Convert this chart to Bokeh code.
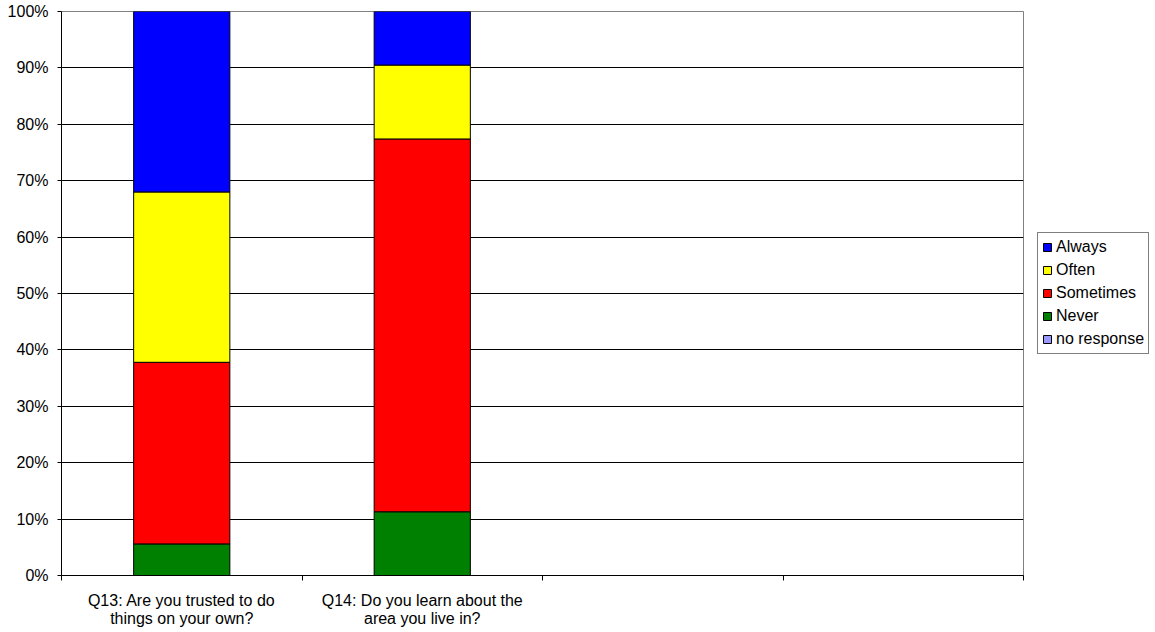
from bokeh.plotting import figure
from bokeh.models import (ColumnDataSource, FixedTicker, NumeralTickFormatter,
                          Legend, LegendItem, Range1d)
from bokeh.embed import file_html
from bokeh.resources import INLINE

categories = ["Q13: Are you trusted to do\nthings on your own?",
              "Q14: Do you learn about the\narea you live in?", "", ""]
series = ["no response", "Never", "Sometimes", "Often", "Always"]
colors = ["#9999FF", "#008000", "#FF0000", "#FFFF00", "#0000FF"]
no_response = [0.0, 0.0]
never = [5.6, 11.3]
sometimes = [32.2, 66.1]
often = [30.2, 13.1]
always = [32.0, 9.5]

values = [no_response, never, sometimes, often, always]
nbars = len(never)
xs = [i + 0.5 for i in range(nbars)]

FONT = "Liberation Sans"
FS = "16px"

p = figure(frame_width=962, frame_height=564, output_backend="svg",
           toolbar_location=None, x_range=Range1d(0, len(categories)),
           y_range=Range1d(0, 1),
           min_border_left=61, min_border_top=11, min_border_bottom=50,
           min_border_right=0)
p.background_fill_color = "white"
p.border_fill_color = "white"
p.outline_line_color = "#808080"
p.outline_line_width = 1

bottoms = [0.0] * nbars
renderers = []
for name, col, vals in zip(series, colors, values):
    fr = [v / 100 for v in vals]
    tops = [b + f for b, f in zip(bottoms, fr)]
    src = ColumnDataSource(dict(x=xs, bottom=bottoms, top=tops))
    r = p.vbar(x="x", bottom="bottom", top="top", width=0.4, source=src,
               fill_color=col, line_color="black", line_width=1)
    renderers.append((name, r))
    bottoms = tops

# x axis
p.xaxis.ticker = FixedTicker(ticks=[i + 0.5 for i in range(len(categories))],
                             minor_ticks=list(range(len(categories) + 1)))
p.xaxis.major_label_overrides = {i + 0.5: c for i, c in enumerate(categories)}
p.xaxis.major_tick_line_color = None
p.xaxis.minor_tick_line_color = "black"
p.xaxis.minor_tick_out = 5
p.xaxis.minor_tick_in = 0
p.xaxis.axis_line_color = "black"
p.xaxis.major_label_text_font = FONT
p.xaxis.major_label_text_font_size = FS
p.xaxis.major_label_text_color = "black"
p.xaxis.major_label_text_line_height = 1.1
p.xaxis.major_label_standoff = 10
p.xgrid.grid_line_color = None

# y axis
p.yaxis.ticker = FixedTicker(ticks=[i / 10 for i in range(11)])
p.yaxis.formatter = NumeralTickFormatter(format="0%")
p.yaxis.minor_tick_line_color = None
p.yaxis.major_tick_out = 4
p.yaxis.major_tick_in = 0
p.yaxis.major_tick_line_color = "black"
p.yaxis.axis_line_color = "black"
p.yaxis.major_label_text_font = FONT
p.yaxis.major_label_text_font_size = FS
p.yaxis.major_label_text_color = "black"
p.yaxis.major_label_standoff = 9
p.ygrid.grid_line_color = "black"
p.ygrid.grid_line_width = 1

items = [LegendItem(label=n, renderers=[r]) for n, r in reversed(renderers)]
legend = Legend(items=items, location="center_left", margin=14,
                label_text_font=FONT, label_text_font_size=FS,
                label_text_color="black",
                glyph_width=10, glyph_height=10, label_height=20, spacing=3,
                padding=4, border_line_color="black", border_line_width=1,
                label_standoff=4, background_fill_alpha=1)
p.add_layout(legend, "right")

open("out.html", "w").write(file_html(p, INLINE))
